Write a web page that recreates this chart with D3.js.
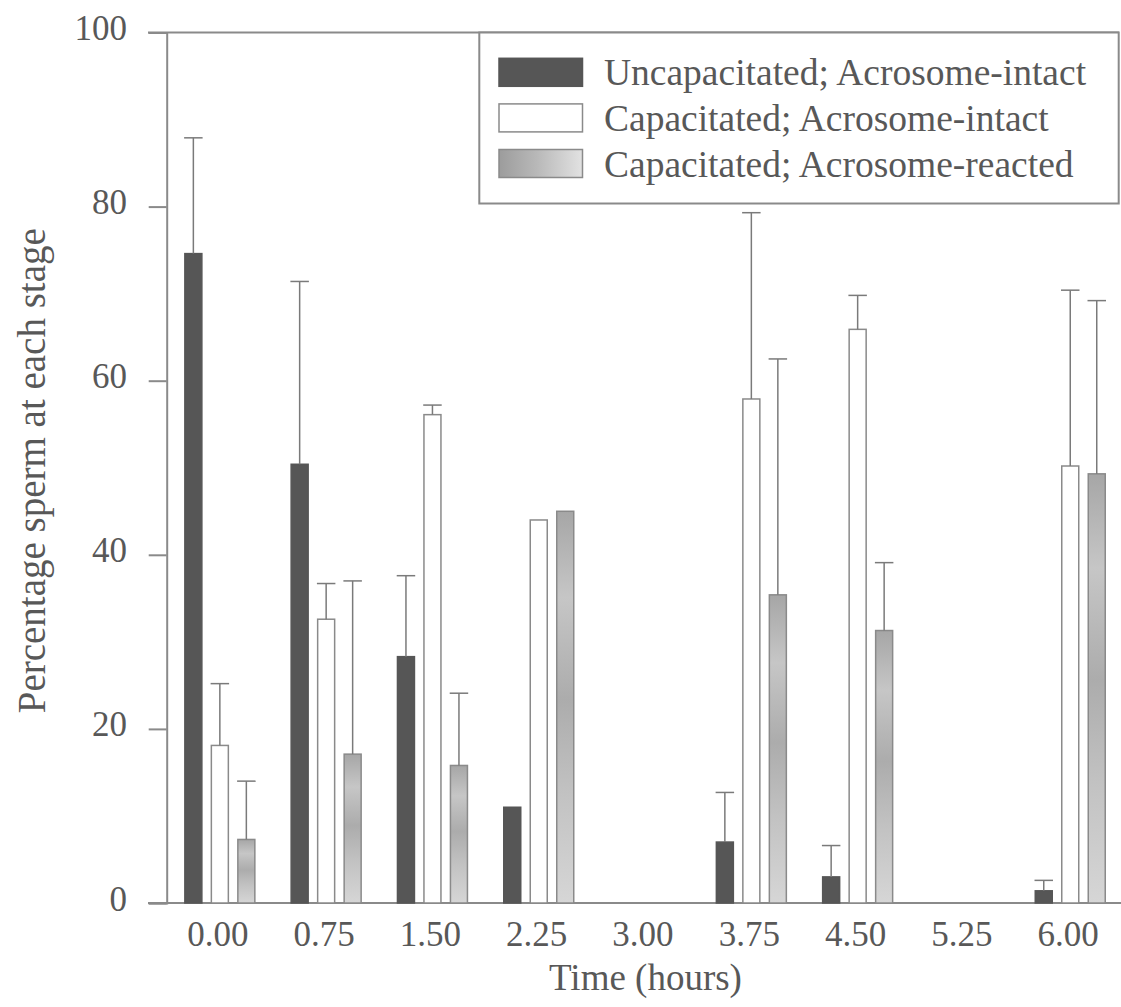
<!DOCTYPE html>
<html>
<head>
<meta charset="utf-8">
<script src="https://cdn.jsdelivr.net/npm/d3@7"></script>
<style>
  html, body { margin: 0; padding: 0; background: #ffffff; }
  svg { display: block; }
  text { font-family: "Liberation Serif", "Times New Roman", serif; fill: #585858; }
</style>
</head>
<body>
<svg id="chart" width="1121" height="1007"></svg>
<script>
// ---- data ----
const categories = ["0.00", "0.75", "1.50", "2.25", "3.00", "3.75", "4.50", "5.25", "6.00"];
const seriesNames = [
  "Uncapacitated; Acrosome-intact",
  "Capacitated; Acrosome-intact",
  "Capacitated; Acrosome-reacted"
];
const uncapIntact   = [74.6, 50.4, 28.3, 11.0, null, 7.0, 3.0, null, 1.4];
const capIntact     = [18.1, 32.6, 56.1, 44.0, null, 57.9, 65.9, null, 50.2];
const capReacted    = [7.3, 17.1, 15.8, 45.0, null, 35.4, 31.3, null, 49.3];
const uncapIntactErr = [13.3, 21.0, 9.3, 0, null, 5.7, 3.6, null, 1.2];
const capIntactErr   = [7.1, 4.1, 1.1, 0, null, 21.4, 3.9, null, 20.2];
const capReactedErr  = [6.7, 19.9, 8.3, 0, null, 27.1, 7.8, null, 19.9];
const yTicks = [0, 20, 40, 60, 80, 100];
const xTitle = "Time (hours)";
const yTitle = "Percentage sperm at each stage";

// ---- layout ----
const svg = d3.select("#chart");
const plotLeft = 166.7, plotTop = 32.5, plotBottom = 903, bandRight = 1123.4;
const lineCol = "#8a8a8a";
const textCol = "#585858";

const x0 = d3.scaleBand().domain(categories).range([plotLeft, bandRight]).paddingInner(0).paddingOuter(0);
const x1 = d3.scaleBand().domain([0, 1, 2]).range([0, x0.bandwidth()]).paddingInner(0.302).paddingOuter(0.657);
const y = d3.scaleLinear().domain([0, 100]).range([plotBottom, plotTop]);

// gradients
const defs = svg.append("defs");
const gv = defs.append("linearGradient").attr("id", "gradBar").attr("x1", 0).attr("y1", 0).attr("x2", 0).attr("y2", 1);
[["0%", "#a6a6a6"], ["22%", "#c6c6c6"], ["48%", "#acacac"], ["72%", "#c2c2c2"], ["100%", "#d6d6d6"]]
  .forEach(([o, c]) => gv.append("stop").attr("offset", o).attr("stop-color", c));
const gh = defs.append("linearGradient").attr("id", "gradLeg").attr("x1", 0).attr("y1", 0).attr("x2", 1).attr("y2", 0);
[["0%", "#9c9c9c"], ["45%", "#b8b8b8"], ["100%", "#e2e2e2"]]
  .forEach(([o, c]) => gh.append("stop").attr("offset", o).attr("stop-color", c));

const fills = ["#565656", "#ffffff", "url(#gradBar)"];
const strokes = ["#565656", "#8a8a8a", "#8a8a8a"];
const legendFills = ["#565656", "#ffffff", "url(#gradLeg)"];

const seriesVals = [uncapIntact, capIntact, capReacted];
const seriesErrs = [uncapIntactErr, capIntactErr, capReactedErr];

// ---- axes frame ----
svg.append("line").attr("x1", 148).attr("x2", 1119).attr("y1", y(100)).attr("y2", y(100))
  .attr("stroke", lineCol).attr("stroke-width", 2);
svg.append("line").attr("x1", 148).attr("x2", 1121).attr("y1", y(0)).attr("y2", y(0))
  .attr("stroke", lineCol).attr("stroke-width", 2);

// y axis
const yAxis = svg.append("g").attr("transform", `translate(${plotLeft},0)`)
  .call(d3.axisLeft(y).tickValues(yTicks).tickSize(18).tickPadding(21.7).tickFormat(d3.format("d")));
yAxis.select(".domain").attr("stroke", lineCol).attr("stroke-width", 2);
yAxis.selectAll(".tick line").attr("stroke", lineCol).attr("stroke-width", 2);
yAxis.selectAll(".tick text").attr("font-size", 35).attr("font-family", "Liberation Serif")
  .attr("fill", textCol).attr("dy", "0.2em");

// x axis labels
const xAxis = svg.append("g").attr("transform", `translate(0,${plotBottom})`)
  .call(d3.axisBottom(x0).tickSize(0).tickPadding(18));
xAxis.select(".domain").remove();
xAxis.selectAll(".tick text").attr("font-size", 35).attr("font-family", "Liberation Serif")
  .attr("fill", textCol).attr("dx", "-0.06em");

// ---- bars ----
const groups = svg.append("g").selectAll("g").data(categories).join("g")
  .attr("transform", d => `translate(${x0(d)},0)`);

groups.each(function(cat, ci) {
  const g = d3.select(this);
  seriesVals.forEach((vals, si) => {
    const v = vals[ci];
    if (v === null || v === undefined) return;
    const bx = x1(si), bw = x1.bandwidth();
    g.append("rect")
      .attr("x", bx + 0.75).attr("y", y(v))
      .attr("width", bw - 1.5).attr("height", y(0) - y(v))
      .attr("fill", fills[si]).attr("stroke", strokes[si]).attr("stroke-width", 1.5);
    const e = seriesErrs[si][ci];
    if (e && e > 0) {
      const cx = bx + bw / 2;
      g.append("line").attr("x1", cx).attr("x2", cx).attr("y1", y(v)).attr("y2", y(v + e))
        .attr("stroke", "#7a7a7a").attr("stroke-width", 1.5);
      g.append("line").attr("x1", cx - bw / 2).attr("x2", cx + bw / 2).attr("y1", y(v + e)).attr("y2", y(v + e))
        .attr("stroke", "#7a7a7a").attr("stroke-width", 1.5);
    }
  });
});

// ---- legend ----
const leg = svg.append("g");
leg.append("rect").attr("x", 479.3).attr("y", 32.5).attr("width", 639.4).attr("height", 171)
  .attr("fill", "#ffffff").attr("stroke", lineCol).attr("stroke-width", 2);
seriesNames.forEach((name, i) => {
  const ry = 58.3 + i * 45.6;
  leg.append("rect").attr("x", 499).attr("y", ry).attr("width", 83.5).attr("height", 28)
    .attr("fill", legendFills[i]).attr("stroke", i === 0 ? "#565656" : "#8a8a8a").attr("stroke-width", 1.5);
  leg.append("text").attr("x", 604).attr("y", ry + 27).attr("font-size", 37.5)
    .attr("font-family", "Liberation Serif").attr("fill", textCol).text(name);
});

// ---- titles ----
svg.append("text").attr("x", 645.5).attr("y", 990).attr("text-anchor", "middle")
  .attr("font-size", 37).attr("font-family", "Liberation Serif").attr("fill", textCol).text(xTitle);
svg.append("text").attr("transform", `translate(45,${(plotTop + plotBottom) / 2 + 3}) rotate(-90)`)
  .attr("text-anchor", "middle").attr("font-size", 39).attr("font-family", "Liberation Serif")
  .attr("fill", textCol).text(yTitle);
</script>
</body>
</html>
